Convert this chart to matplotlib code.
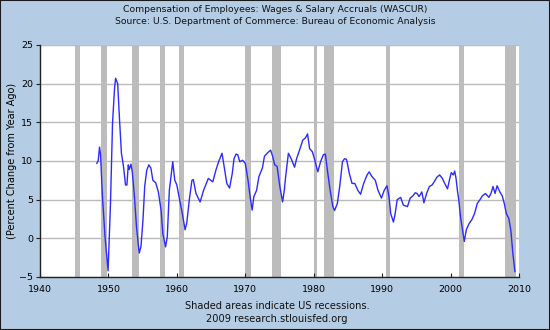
import matplotlib
matplotlib.use("Agg")
import matplotlib.pyplot as plt
from matplotlib.patches import Rectangle

# wages & salary accruals, percent change from year ago
years = [1948.3, 1948.5, 1948.7, 1948.85, 1949.1, 1949.5, 1949.95, 1950.3, 1950.6, 1950.9,
         1951.05, 1951.35, 1951.65, 1951.9, 1952.2, 1952.5, 1952.7, 1952.9, 1953.05, 1953.3,
         1953.5, 1953.8, 1954.1, 1954.5, 1954.75, 1955.05, 1955.3, 1955.6, 1955.9, 1956.2,
         1956.5, 1956.9, 1957.3, 1957.7, 1957.95, 1958.35, 1958.6, 1958.9, 1959.4, 1959.7,
         1960.0, 1960.4, 1960.8, 1961.2, 1961.45, 1961.85, 1962.2, 1962.4, 1962.8, 1963.4,
         1963.9, 1964.6, 1965.25, 1965.7, 1966.1, 1966.6, 1967.0, 1967.3, 1967.7, 1968.1,
         1968.35, 1968.65, 1968.9, 1969.2, 1969.6, 1970.0, 1970.4, 1970.7, 1971.0, 1971.25,
         1971.65, 1972.0, 1972.5, 1972.8, 1973.3, 1973.7, 1974.0, 1974.3, 1974.65, 1975.05,
         1975.45, 1975.7, 1975.9, 1976.3, 1976.7, 1977.2, 1977.5, 1978.0, 1978.4, 1978.8,
         1979.1, 1979.4, 1979.8, 1980.1, 1980.6, 1981.0, 1981.4, 1981.7, 1982.0, 1982.4,
         1982.8, 1983.05, 1983.45, 1983.8, 1984.2, 1984.5, 1984.8, 1985.2, 1985.6, 1986.0,
         1986.45, 1986.85, 1987.3, 1987.8, 1988.1, 1988.5, 1989.0, 1989.4, 1989.9, 1990.3,
         1990.7, 1991.0, 1991.25, 1991.65, 1991.9, 1992.2, 1992.7, 1993.1, 1993.7, 1994.1,
         1994.5, 1994.85, 1995.1, 1995.4, 1995.8, 1996.1, 1996.5, 1996.9, 1997.3, 1997.6,
         1998.0, 1998.4, 1998.8, 1999.2, 1999.55, 1999.85, 2000.1, 2000.4, 2000.6, 2000.8,
         2001.0, 2001.2, 2001.45, 2001.75, 2002.0, 2002.3, 2002.7, 2003.1, 2003.5, 2003.9,
         2004.3, 2004.65, 2005.1, 2005.6, 2005.9, 2006.2, 2006.5, 2006.8, 2007.2, 2007.55,
         2007.85, 2008.15, 2008.5, 2008.8, 2009.1, 2009.4]
pct_change = [9.7, 10.0, 11.8, 10.8, 5.8, 0.2, -4.2, 4.5, 14.9, 19.5,
              20.7, 20.0, 14.9, 11.0, 9.3, 6.9, 6.9, 9.5, 8.9, 9.6,
              8.5, 5.4, 1.5, -1.9, -1.1, 2.4, 6.7, 8.8, 9.5, 9.1,
              7.5, 7.2, 6.0, 3.6, 0.6, -1.1, 0.2, 6.2, 9.9, 7.5,
              6.9, 5.0, 3.2, 1.1, 2.0, 5.2, 7.5, 7.6, 5.8, 4.7,
              6.2, 7.75, 7.3, 8.8, 9.9, 11.0, 8.8, 7.1, 6.5, 8.4,
              10.3, 10.9, 10.8, 9.9, 10.1, 9.7, 7.5, 5.4, 3.65, 5.4,
              6.2, 8.0, 9.1, 10.6, 11.1, 11.4, 10.6, 9.5, 9.3, 6.7,
              4.7, 6.2, 8.0, 11.0, 10.3, 9.2, 10.3, 11.6, 12.7, 13.0,
              13.5, 11.6, 11.2, 10.3, 8.6, 9.9, 10.8, 10.9, 8.8, 6.2,
              4.1, 3.6, 4.5, 6.7, 9.9, 10.3, 10.2, 8.4, 7.1, 7.1,
              6.2, 5.7, 7.1, 8.2, 8.6, 8.0, 7.5, 6.2, 5.2, 6.2,
              6.8, 5.4, 3.2, 2.1, 3.2, 5.0, 5.3, 4.3, 4.1, 5.2,
              5.5, 5.9, 5.8, 5.4, 6.0, 4.6, 5.8, 6.7, 6.9, 7.3,
              7.9, 8.2, 7.75, 7.0, 6.4, 7.6, 8.5, 8.2, 8.7, 7.75,
              6.2, 4.95, 2.8, 1.1, -0.4, 1.1, 1.9, 2.4, 3.2, 4.5,
              5.0, 5.5, 5.8, 5.3, 5.8, 6.7, 5.8, 6.8, 6.0, 5.5,
              4.5, 3.2, 2.6, 1.1, -1.9, -4.3]

# US recessions (start, end)
rec_start = [1945.1, 1948.9, 1953.5, 1957.6, 1960.3, 1969.9, 1973.9, 1980.0, 1981.5, 1990.5, 2001.2, 2007.9]
rec_end = [1945.8, 1949.8, 1954.4, 1958.3, 1961.1, 1970.9, 1975.2, 1980.5, 1982.9, 1991.2, 2001.9, 2009.6]

x_ticks = [1940, 1950, 1960, 1970, 1980, 1990, 2000, 2010]
y_ticks = [-5, 0, 5, 10, 15, 20, 25]

bg = "#b5cde4"
fig = plt.figure(figsize=(5.5, 3.3), dpi=100, facecolor=bg)
ax = fig.add_axes([40/550, 1-277/330, 479/550, 232/330])
ax.set_facecolor("white")

for s, e in zip(rec_start, rec_end):
    ax.axvspan(s, e, color="#bcbcbc", lw=0, zorder=1)
for t in y_ticks:
    ax.axhline(t, color="#bbbbbb", lw=1, zorder=0.5)

ax.plot(years, pct_change, color="#2b2bff", lw=1, zorder=3)

ax.set_xlim(1940, 2010)
ax.set_ylim(-5, 25)
ax.set_xticks(x_ticks)
ax.set_yticks(y_ticks)
ax.tick_params(axis="x", direction="in", length=3, labelsize=6.8, pad=6, color="#222222")
ax.tick_params(axis="y", direction="out", length=3, labelsize=6.8, pad=2, color="#222222")
for side in ["top", "right"]:
    ax.spines[side].set_visible(False)
for side in ["left", "bottom"]:
    ax.spines[side].set_color("#222222")
    ax.spines[side].set_linewidth(1)

ax.set_ylabel("(Percent Change from Year Ago)", fontsize=7)
ax.yaxis.set_label_coords(-23/479, 0.5)

fig.text(0.5, 1-10/330, "Compensation of Employees: Wages & Salary Accruals (WASCUR)",
         ha="center", va="center", fontsize=6.7, color="#111111")
fig.text(0.5, 1-22/330, "Source: U.S. Department of Commerce: Bureau of Economic Analysis",
         ha="center", va="center", fontsize=6.7, color="#111111")
fig.text(277/550, 1-306/330, "Shaded areas indicate US recessions.",
         ha="center", va="center", fontsize=7.1, color="#111111")
fig.text(277/550, 1-319/330, "2009 research.stlouisfed.org",
         ha="center", va="center", fontsize=7.1, color="#111111")

# thin dark frame round the whole figure
fig.patches.append(Rectangle((0, 0), 1, 1, transform=fig.transFigure, fill=False,
                             edgecolor="#1a1a1a", lw=1.5))

fig.savefig("out.png", dpi=100, facecolor=bg)
